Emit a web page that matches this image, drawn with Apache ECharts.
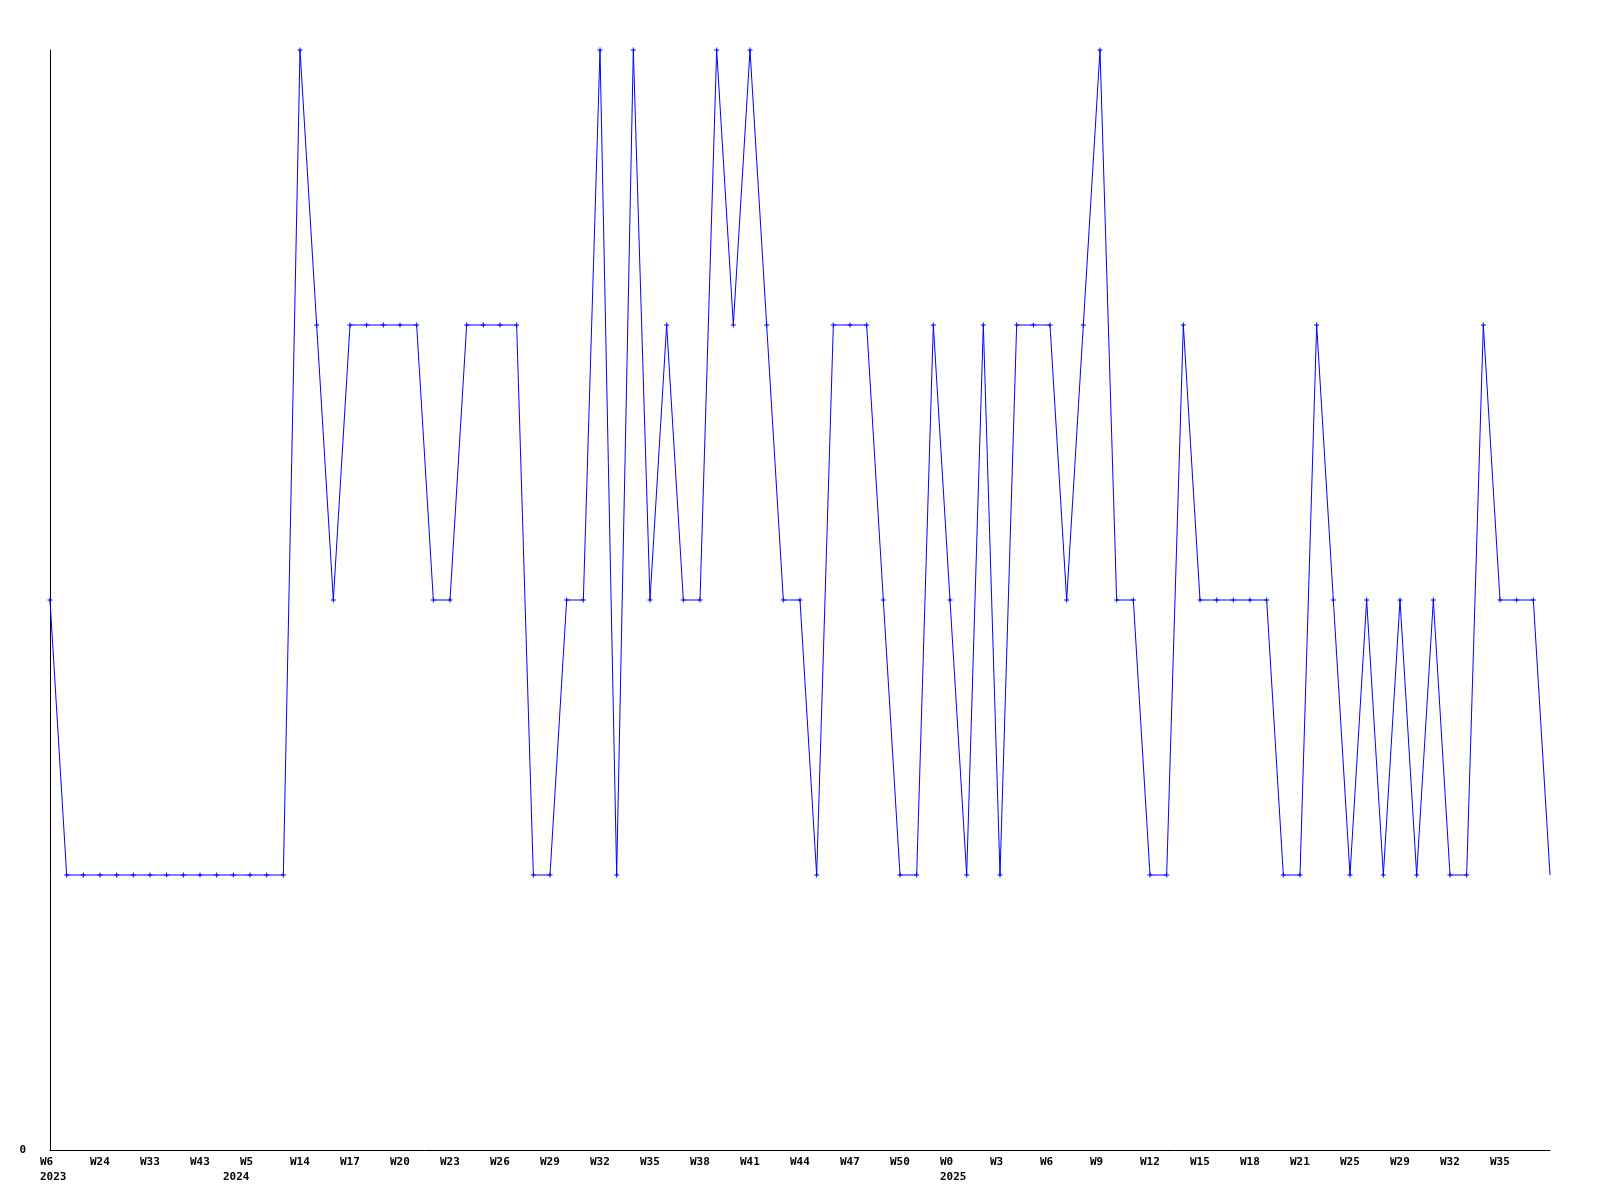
<!DOCTYPE html>
<html>
<head>
<meta charset="utf-8">
<script src="https://cdn.jsdelivr.net/npm/echarts@6/dist/echarts.min.js"></script>
<style>
html,body{margin:0;padding:0;background:#fff;}
#chart{width:1600px;height:1200px;}
</style>
</head>
<body>
<div id="chart"></div>
<script>
// Week categories (one per data point)
const categories = [
  'W6 2023','W12','W18','W24','W27','W30','W33','W36','W40','W43','W47','W51',
  'W5 2024','W8','W11','W14','W15','W16','W17','W18','W19','W20','W21','W22',
  'W23','W24','W25','W26','W27','W28','W29','W30','W31','W32','W33','W34',
  'W35','W36','W37','W38','W39','W40','W41','W42','W43','W44','W45','W46',
  'W47','W48','W49','W50','W51','W52','W0 2025','W1','W2','W3','W4','W5',
  'W6','W7','W8','W9','W10','W11','W12','W13','W14','W15','W16','W17',
  'W18','W19','W20','W21','W22','W23','W25','W26','W27','W29','W30','W31',
  'W32','W33','W34','W35','W36','W37','W38'
];
// Tick labels shown under the axis (every third category)
const tickLabels = {
  0: 'W6\n2023', 3: 'W24', 6: 'W33', 9: 'W43', 12: 'W5\n{s|2024}', 15: 'W14',
  18: 'W17', 21: 'W20', 24: 'W23', 27: 'W26', 30: 'W29', 33: 'W32', 36: 'W35',
  39: 'W38', 42: 'W41', 45: 'W44', 48: 'W47', 51: 'W50', 54: 'W0\n2025',
  57: 'W3', 60: 'W6', 63: 'W9', 66: 'W12', 69: 'W15', 72: 'W18', 75: 'W21',
  78: 'W25', 81: 'W29', 84: 'W32', 87: 'W35'
};
// Series values
const values = [
  2,1,1,1,1,1,1,1,1,1,1,1,1,1,1,
  4,3,2,3,3,3,3,3,2,2,3,3,3,3,1,1,2,2,
  4,1,4,2,3,2,2,4,3,4,3,2,2,1,3,3,3,2,1,1,
  3,2,1,3,1,3,3,3,2,3,4,2,2,1,1,3,2,2,2,2,2,1,1,
  3,2,1,2,1,2,1,2,1,1,3,2,2,2,1
];

const FONT = '"DejaVu Sans Mono", "Liberation Mono", monospace';
const plus = 'path://M2,0L3,0L3,2L5,2L5,3L3,3L3,5L2,5L2,3L0,3L0,2L2,2Z';

const seriesData = values.map((v, i) =>
  i === values.length - 1 ? { value: v, symbol: 'none' } : v
);

const chart = echarts.init(document.getElementById('chart'), null, { renderer: 'canvas' });
chart.setOption({
  animation: false,
  backgroundColor: '#ffffff',
  grid: [
    { left: 50, right: 50, top: 50, bottom: 50 },
    { left: 40, right: 60, top: 50, bottom: 50 }
  ],
  xAxis: [
    {
      type: 'category', gridIndex: 0, data: categories, boundaryGap: false,
      axisLine: { show: true, lineStyle: { color: '#000', width: 1 } },
      axisTick: { show: false },
      axisLabel: { show: false },
      splitLine: { show: false }
    },
    {
      type: 'category', gridIndex: 1, data: categories, boundaryGap: false,
      axisLine: { show: false },
      axisTick: { show: false },
      splitLine: { show: false },
      axisLabel: {
        show: true, interval: 0, align: 'left', margin: 5,
        fontFamily: FONT, fontWeight: 'bold', fontSize: 11, lineHeight: 15,
        color: '#000',
        rich: {
          s: { fontFamily: FONT, fontWeight: 'bold', fontSize: 11, lineHeight: 15,
               color: '#000', padding: [0, 0, 0, -17] }
        },
        formatter: (v, i) => tickLabels[i] !== undefined ? tickLabels[i] : ''
      }
    }
  ],
  yAxis: [
    {
      type: 'value', gridIndex: 0, min: 0, max: 4, interval: 4,
      axisLine: { show: true, lineStyle: { color: '#000', width: 1 } },
      axisTick: { show: false },
      splitLine: { show: false },
      axisLabel: {
        margin: 24, fontFamily: FONT, fontWeight: 'bold', fontSize: 11, color: '#000',
        formatter: v => v === 0 ? '0' : ''
      }
    },
    {
      type: 'value', gridIndex: 1, min: 0, max: 4, show: false
    }
  ],
  series: [{
    type: 'line',
    xAxisIndex: 0, yAxisIndex: 0,
    data: seriesData,
    symbol: plus,
    symbolSize: 5,
    showAllSymbol: true,
    lineStyle: { color: '#0000ff', width: 1 },
    itemStyle: { color: '#0000ff', borderWidth: 0 }
  }]
});
</script>
</body>
</html>
